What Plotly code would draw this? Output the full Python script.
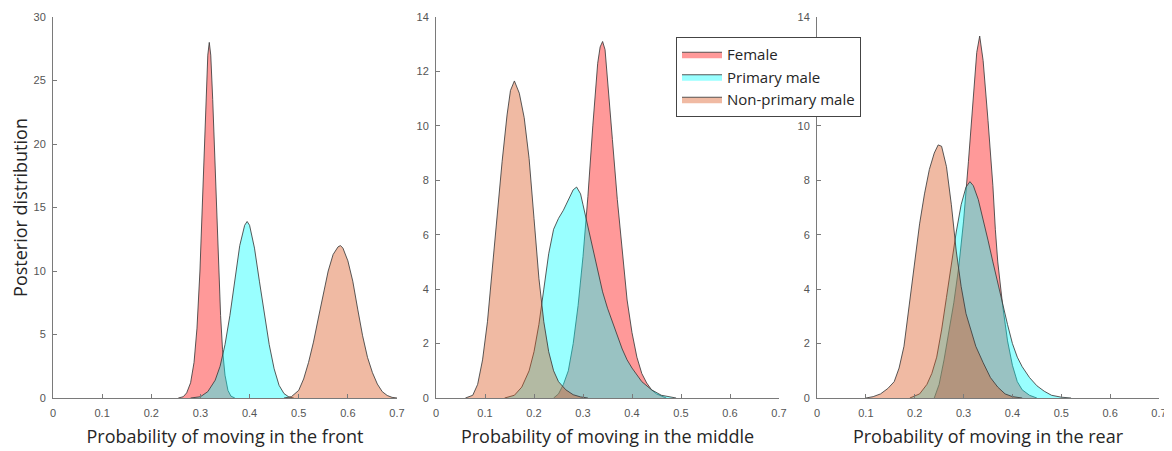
import plotly.graph_objects as go

series_names = ["Female", "Primary male", "Non-primary male"]
panel_titles = ["Probability of moving in the front",
                "Probability of moving in the middle",
                "Probability of moving in the rear"]
x_ticks = [0, 0.1, 0.2, 0.3, 0.4, 0.5, 0.6, 0.7]
x_tick_labels = ["0", "0.1", "0.2", "0.3", "0.4", "0.5", "0.6", "0.7"]
y_ticks_front = [0, 5, 10, 15, 20, 25, 30]
y_ticks_other = [0, 2, 4, 6, 8, 10, 12, 14]
# the "12" of the rear panel is hidden behind the legend in the reference
y_labels = [["0", "5", "10", "15", "20", "25", "30"],
            ["0", "2", "4", "6", "8", "10", "12", "14"],
            ["0", "2", "4", "6", "8", "10", "", "14"]]

# ---- Front ----
front_female_x = [0.255, 0.265, 0.272, 0.28, 0.287, 0.293, 0.299, 0.304, 0.308, 0.312, 0.315, 0.318,
                  0.321, 0.325, 0.329, 0.333, 0.337, 0.341, 0.345, 0.35, 0.356, 0.362, 0.37]
front_female_y = [0, 0.1, 0.4, 1.2, 2.8, 5.5, 10, 15, 20, 24.5, 27, 28,
                  27, 23.5, 19, 14, 10, 6.5, 3.8, 1.8, 0.6, 0.15, 0]
front_primary_x = [0.28, 0.3, 0.315, 0.33, 0.34, 0.35, 0.36, 0.37, 0.38, 0.39, 0.395, 0.4,
                   0.41, 0.42, 0.43, 0.44, 0.45, 0.46, 0.47, 0.48, 0.49]
front_primary_y = [0, 0.1, 0.5, 1.4, 2.5, 4.2, 6.5, 9.2, 12, 13.6, 13.9, 13.6,
                   11.8, 9.2, 6.5, 4.2, 2.3, 1.0, 0.35, 0.08, 0]
front_nonprimary_x = [0.47, 0.485, 0.5, 0.51, 0.52, 0.53, 0.54, 0.55, 0.56, 0.57, 0.58, 0.585,
                      0.59, 0.6, 0.61, 0.62, 0.63, 0.64, 0.65, 0.66, 0.67, 0.68, 0.69, 0.7]
front_nonprimary_y = [0, 0.1, 0.6, 1.5, 2.8, 4.4, 6.3, 8.3, 10.0, 11.3, 11.9, 12.0,
                      11.8, 10.8, 9.2, 7.0, 4.9, 3.2, 2.0, 1.1, 0.5, 0.2, 0.05, 0]

# ---- Middle ----
middle_female_x = [0.24, 0.25, 0.26, 0.27, 0.28, 0.29, 0.3, 0.31, 0.32, 0.33, 0.335, 0.34, 0.345,
                   0.35, 0.36, 0.37, 0.38, 0.39, 0.4, 0.41, 0.42, 0.43, 0.44, 0.45, 0.47]
middle_female_y = [0, 0.15, 0.5, 1.0, 2.0, 3.4, 5.2, 7.4, 10, 12.3, 12.9, 13.1, 12.8,
                   11.8, 9.5, 7.3, 5.3, 3.6, 2.4, 1.5, 0.9, 0.55, 0.3, 0.15, 0]
middle_primary_x = [0.14, 0.16, 0.175, 0.19, 0.2, 0.21, 0.22, 0.23, 0.24, 0.25, 0.26, 0.27, 0.28,
                    0.287, 0.295, 0.3, 0.31, 0.32, 0.33, 0.34, 0.35, 0.36, 0.37, 0.38, 0.39, 0.4,
                    0.42, 0.44, 0.46, 0.49]
middle_primary_y = [0, 0.1, 0.4, 1.0, 1.7, 2.7, 4.0, 5.3, 6.2, 6.6, 6.9, 7.3, 7.65,
                    7.75, 7.5, 7.1, 6.3, 5.4, 4.6, 3.9, 3.3, 2.8, 2.3, 1.8, 1.4, 1.1,
                    0.6, 0.3, 0.1, 0]
middle_nonprimary_x = [0.06, 0.075, 0.085, 0.095, 0.105, 0.115, 0.125, 0.135, 0.145, 0.152, 0.16,
                       0.17, 0.18, 0.19, 0.2, 0.21, 0.22, 0.23, 0.24, 0.25, 0.265, 0.28, 0.295, 0.31]
middle_nonprimary_y = [0, 0.1, 0.5, 1.4, 2.8, 4.8, 6.9, 8.7, 10.4, 11.3, 11.65,
                       11.2, 10.3, 8.8, 6.6, 4.4, 2.8, 1.7, 1.0, 0.6, 0.3, 0.12, 0.04, 0]

# ---- Rear ----
rear_female_x = [0.24, 0.25, 0.26, 0.27, 0.28, 0.29, 0.3, 0.31, 0.32, 0.327, 0.333, 0.34,
                 0.35, 0.36, 0.365, 0.37, 0.38, 0.39, 0.4, 0.41, 0.42, 0.435, 0.45]
rear_female_y = [0, 0.5, 1.4, 2.5, 3.5, 4.8, 6.5, 8.7, 11.2, 12.7, 13.3, 12.4,
                 10.2, 7.8, 6.2, 5.0, 3.4, 2.1, 1.2, 0.6, 0.3, 0.1, 0]
rear_primary_x = [0.19, 0.21, 0.225, 0.235, 0.245, 0.255, 0.265, 0.275, 0.285, 0.295, 0.305, 0.313,
                  0.32, 0.33, 0.34, 0.35, 0.36, 0.37, 0.38, 0.39, 0.4, 0.41, 0.42, 0.435, 0.45,
                  0.465, 0.48, 0.5, 0.52]
rear_primary_y = [0, 0.15, 0.5, 0.9, 1.5, 2.5, 3.7, 4.9, 6.1, 7.1, 7.75, 7.95,
                  7.8, 7.3, 6.6, 5.8, 5.0, 4.2, 3.4, 2.7, 2.0, 1.5, 1.15, 0.75, 0.45,
                  0.25, 0.1, 0.03, 0]
rear_nonprimary_x = [0.1, 0.115, 0.13, 0.145, 0.158, 0.168, 0.178, 0.19, 0.2, 0.21, 0.22, 0.23,
                     0.24, 0.248, 0.255, 0.265, 0.275, 0.285, 0.295, 0.305, 0.315, 0.325, 0.34,
                     0.355, 0.37, 0.385, 0.4, 0.42]
rear_nonprimary_y = [0, 0.05, 0.15, 0.35, 0.6, 1.1, 1.9, 3.6, 5.0, 6.4, 7.5, 8.4,
                     9.0, 9.3, 9.25, 8.5, 7.1, 5.4, 4.1, 3.1, 2.5, 1.9, 1.3,
                     0.75, 0.4, 0.15, 0.05, 0]

panels = [
    [(front_female_x, front_female_y), (front_primary_x, front_primary_y),
     (front_nonprimary_x, front_nonprimary_y)],
    [(middle_female_x, middle_female_y), (middle_primary_x, middle_primary_y),
     (middle_nonprimary_x, middle_nonprimary_y)],
    [(rear_female_x, rear_female_y), (rear_primary_x, rear_primary_y),
     (rear_nonprimary_x, rear_nonprimary_y)],
]
y_ranges = [[0, 30], [0, 14], [0, 14]]
y_ticks = [y_ticks_front, y_ticks_other, y_ticks_other]

fill_colors = ["rgba(255,0,0,0.4)", "rgba(0,255,255,0.4)", "rgba(217,83,25,0.4)"]
edge_color = "rgba(60,60,60,0.85)"

W, H, OFF = 1172, 451, 8  # page body margin offsets the figure by 8 px


def fx(px):
    return (px - OFF) / W


def fy(py):
    return 1 - (py - OFF) / H


x_domains = [[fx(53), fx(397)], [fx(436), fx(779)], [fx(817), fx(1159)]]
y_domain = [fy(398), fy(17)]

fig = go.Figure()
for p, series in enumerate(panels):
    ax = "" if p == 0 else str(p + 1)
    for s, (xs, ys) in enumerate(series):
        fig.add_trace(go.Scatter(
            x=xs, y=ys, mode="lines", fill="tozeroy",
            fillcolor=fill_colors[s],
            line=dict(color=edge_color, width=1),
            name=series_names[s], legendgroup=series_names[s],
            showlegend=(p == 0),
            xaxis="x" + ax, yaxis="y" + ax,
        ))

axis_col = "#7a7a7a"
tick_font = dict(family="Liberation Sans, Arial, sans-serif", size=11, color="#555555")
title_font = dict(family="Open Sans, sans-serif", size=18, color="#262626")

layout = dict(
    width=W, height=H,
    margin=dict(l=0, r=0, t=0, b=0),
    paper_bgcolor="white", plot_bgcolor="white",
    showlegend=True,
    legend=dict(
        x=fx(676), y=fy(37), xanchor="left", yanchor="top",
        bgcolor="white", bordercolor="#444444", borderwidth=1,
        font=dict(family="Open Sans, sans-serif", size=15, color="#262626"),
        tracegroupgap=0, itemwidth=40,
    ),
)
for p in range(3):
    ax = "" if p == 0 else str(p + 1)
    layout["xaxis" + ax] = dict(
        domain=x_domains[p], range=[0, 0.7], anchor="y" + ax,
        tickvals=x_ticks, ticktext=x_tick_labels, automargin=False,
        showline=True, linecolor=axis_col, linewidth=1,
        ticks="inside", ticklen=4, tickcolor=axis_col,
        showgrid=False, zeroline=False, tickfont=tick_font,
        ticklabelstandoff=5,
        title=dict(text=panel_titles[p], font=title_font, standoff=12),
        fixedrange=True,
    )
    layout["yaxis" + ax] = dict(
        domain=y_domain, range=y_ranges[p], anchor="x" + ax,
        tickvals=y_ticks[p], ticktext=y_labels[p], automargin=False,
        showline=True, linecolor=axis_col, linewidth=1,
        ticks="inside", ticklen=4, tickcolor=axis_col,
        showgrid=False, zeroline=False, tickfont=tick_font,
        ticklabelstandoff=4,
        title=dict(text="Posterior distribution" if p == 0 else "",
                   font=dict(family="Open Sans, sans-serif", size=18, color="#262626"),
                   standoff=5),
        fixedrange=True,
    )
fig.update_layout(**layout)
fig.write_html("out.html")
